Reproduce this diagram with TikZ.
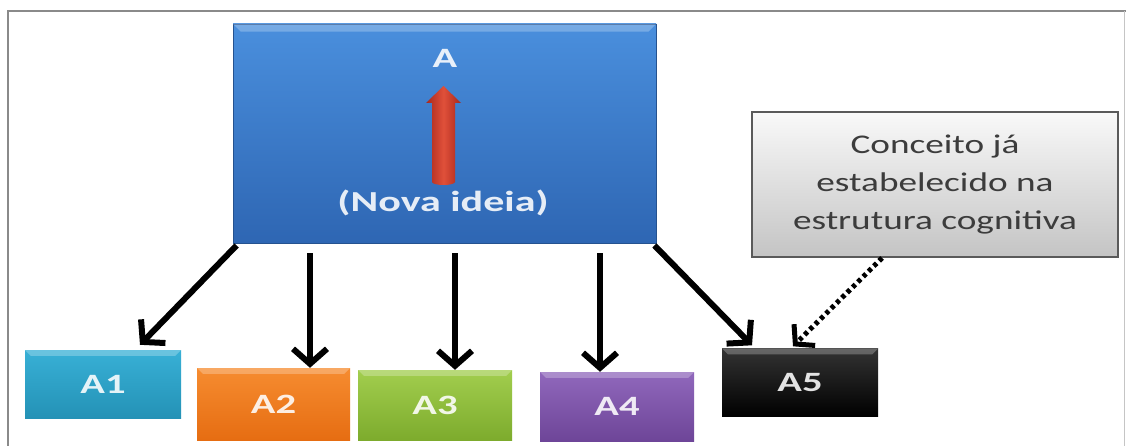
\documentclass[tikz,border=0pt]{standalone}
\usepackage{fontspec}
\usepackage{graphicx}
\setmainfont{Carlito}
\usetikzlibrary{arrows.meta,calc}

\definecolor{frameGray}{HTML}{8A8A8A}
\definecolor{blueTop}{HTML}{4A8FDD}
\definecolor{blueBot}{HTML}{2E66B3}
\definecolor{cyanTop}{HTML}{38B0D6}
\definecolor{cyanBot}{HTML}{2492B6}
\definecolor{orangeTop}{HTML}{F68C30}
\definecolor{orangeBot}{HTML}{E66D12}
\definecolor{greenTop}{HTML}{A2CE4E}
\definecolor{greenBot}{HTML}{7DAB2D}
\definecolor{purpleTop}{HTML}{9068BC}
\definecolor{purpleBot}{HTML}{6E4598}
\definecolor{noteTop}{HTML}{F9F9F9}
\definecolor{noteBot}{HTML}{C4C4C4}
\definecolor{noteEdge}{HTML}{5A5A5A}
\definecolor{noteText}{HTML}{3C3C3C}
\definecolor{redDark}{HTML}{A8281C}
\definecolor{redLight}{HTML}{E0503A}

% horizontally widened lettering
\newcommand{\widetext}[1]{\scalebox{1.45}[1]{#1}}
\newcommand{\noteline}[1]{\scalebox{1.38}[1]{#1}}

\tikzset{
  tile/.style={rectangle, inner sep=0pt, font=\bfseries\fontsize{28}{30}\selectfont,
    text=white, text opacity=0.88},
  mainbox/.style={tile, minimum width=423pt, minimum height=219pt,
    top color=blueTop, bottom color=blueBot, draw=blueBot!80!black, line width=0.8pt},
  notebox/.style={rectangle, inner sep=0pt, minimum width=366pt, minimum height=145pt,
    top color=noteTop, bottom color=noteBot, draw=noteEdge, line width=2pt,
    align=center, text=noteText, font=\fontsize{27}{38}\selectfont},
  link/.style={line width=6pt, -{Straight Barb[length=15pt,width=34pt,line width=6pt]}},
  hint/.style={line width=5pt, dash pattern=on 4pt off 3.5pt,
    -{Straight Barb[length=13pt,width=30pt,line width=5pt]}},
  bevel/.style={white, opacity=0.25},
}

\begin{document}
\begin{tikzpicture}[x=1pt,y=-1pt]
  \useasboundingbox (0,0) rectangle (1126,446);
  \fill[white] (0,0) rectangle (1126,446);

  % outer frame
  \draw[frameGray, line width=2pt] (8,446) -- (8,11) -- (1126,11);
  \draw[frameGray!50, line width=1pt] (1124,11) -- (1124,446);

  % central concept
  \node[mainbox] (A) at (444.5,133.5) {};
  \fill[bevel] (A.north west) -- (A.north east) -- ([xshift=-8pt,yshift=-8pt]A.north east)
     -- ([xshift=8pt,yshift=-8pt]A.north west) -- cycle;
  \node[tile] (Atitle) at (445,58) {\widetext{A}};
  \node[tile, font=\bfseries\fontsize{29}{31}\selectfont] (Anew) at (443,203) {\widetext{(Nova ideia)}};

  % red arrow inside the central box
  \shade[left color=redDark, right color=redDark, middle color=redLight]
    (432,182) -- (432,103) -- (426,103) -- (443.5,86) -- (461,103) -- (455,103)
    -- (455,182) arc[start angle=0, end angle=180, x radius=11.5pt, y radius=-3pt] -- cycle;

  % derived concepts
  \node[tile, minimum width=156pt, minimum height=68pt, top color=cyanTop, bottom color=cyanBot] (A1) at (103,384) {\widetext{A1}};
  \node[tile, minimum width=153pt, minimum height=72pt, top color=orangeTop, bottom color=orangeBot] (A2) at (273.5,404) {\widetext{A2}};
  \node[tile, minimum width=154pt, minimum height=70pt, top color=greenTop, bottom color=greenBot] (A3) at (435,405) {\widetext{A3}};
  \node[tile, minimum width=154pt, minimum height=69pt, top color=purpleTop, bottom color=purpleBot] (A4) at (617,406.5) {\widetext{A4}};
  \node[tile, minimum width=156pt, minimum height=68pt, top color=black!80, bottom color=black] (A5) at (800,382.5) {\widetext{A5}};

  \foreach \n in {A1,A2,A3,A4,A5}{
    \fill[bevel] (\n.north west) -- (\n.north east) -- ([xshift=-6pt,yshift=-6pt]\n.north east)
       -- ([xshift=6pt,yshift=-6pt]\n.north west) -- cycle;
  }

  % note about the anchoring concept
  \node[notebox] (C) at (935,184.5)
    {\noteline{Conceito já}\\\noteline{estabelecido na}\\\noteline{estrutura cognitiva}};

  % links
  \draw[link] ([xshift=4pt,yshift=-2pt]A.south west) -- ([xshift=37pt,yshift=5pt]A1.north);
  \draw[link] ([xshift=-134.5pt,yshift=-10pt]A.south) -- ([xshift=36.5pt]A2.north);
  \draw[link] ([xshift=10.5pt,yshift=-10pt]A.south) -- ([xshift=20pt]A3.north);
  \draw[link] ([xshift=155.5pt,yshift=-10pt]A.south) -- ([xshift=-17pt]A4.north);
  \draw[link] ([xshift=-2pt,yshift=-2pt]A.south east) -- ([xshift=-48pt,yshift=3pt]A5.north);
  \draw[hint] ([xshift=-53pt]C.south) -- ([xshift=-7pt,yshift=2pt]A5.north);
\end{tikzpicture}
\end{document}
